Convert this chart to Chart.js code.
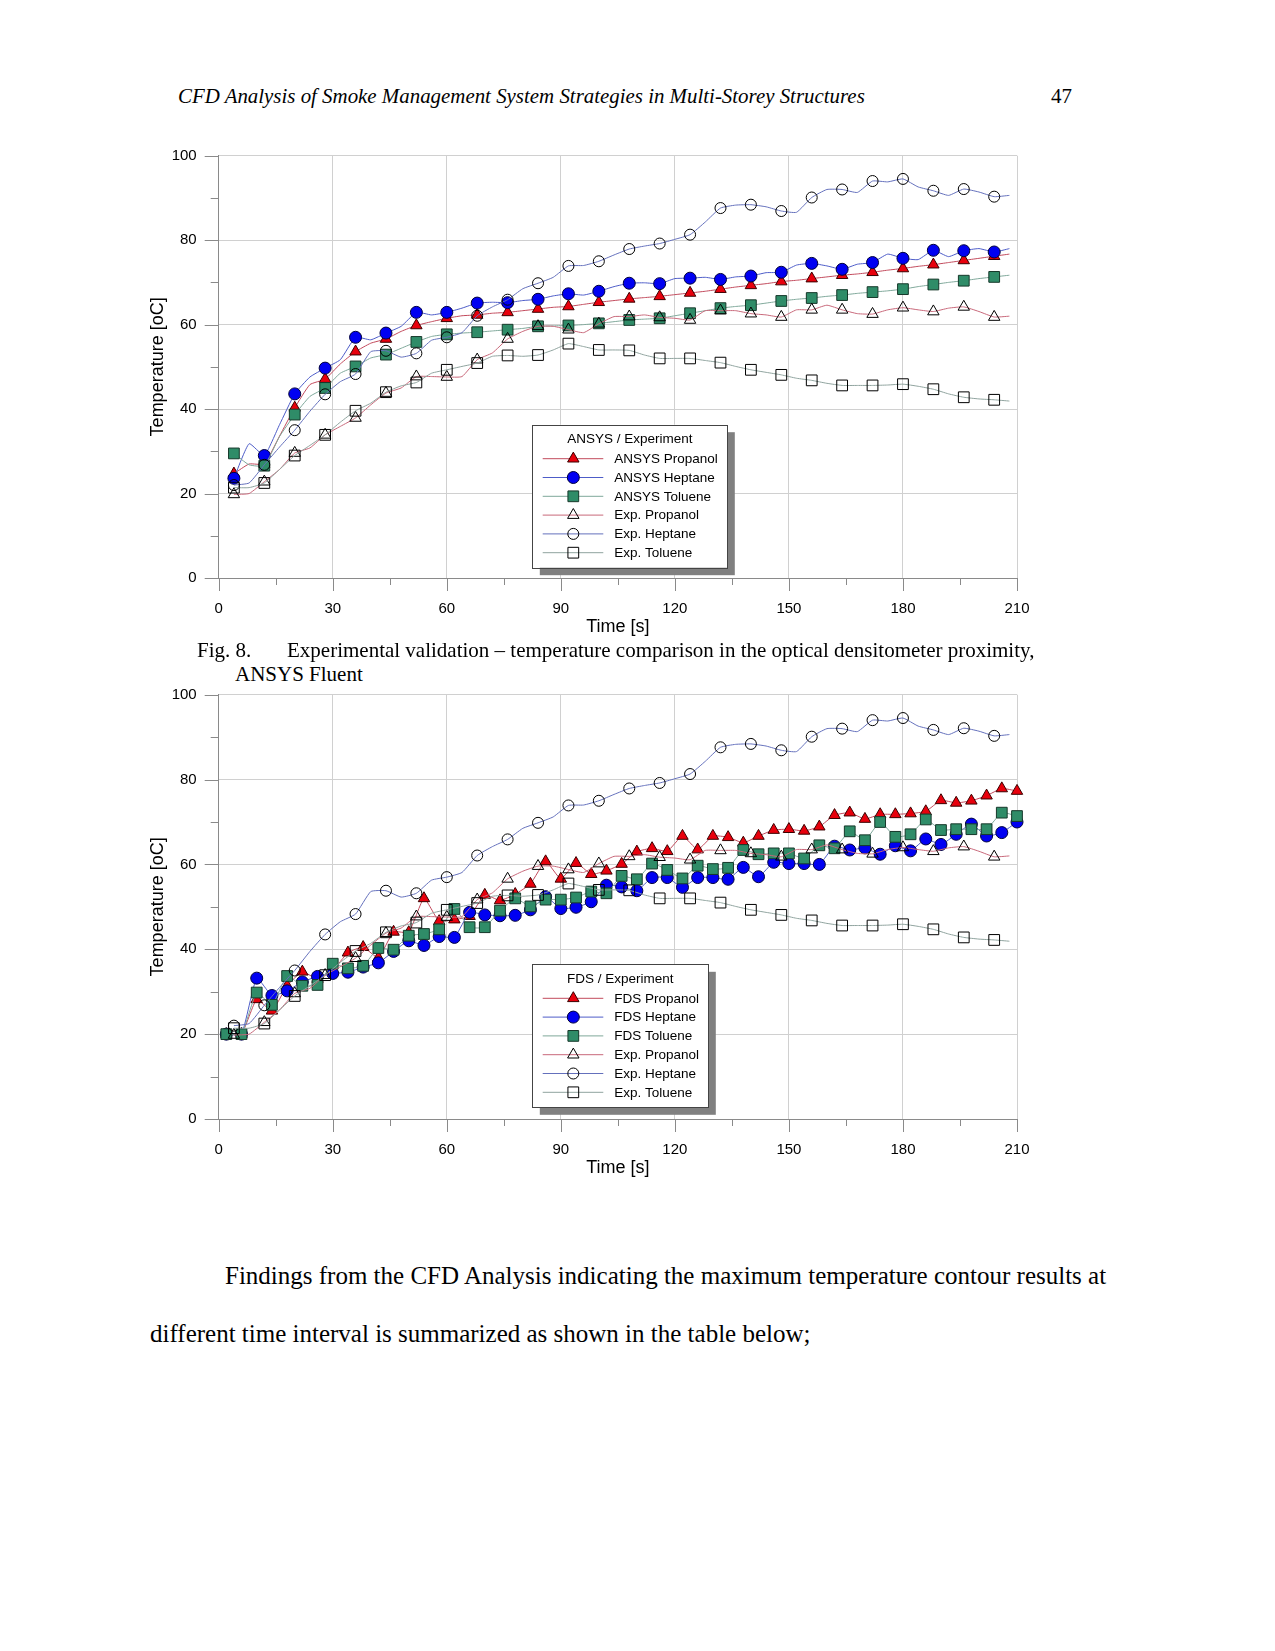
<!DOCTYPE html>
<html>
<head>
<meta charset="utf-8">
<script src="https://cdn.jsdelivr.net/npm/chart.js@4.4.1/dist/chart.umd.min.js"></script>
<style>
  body { margin: 0; background: #fff; }
  #page { position: relative; width: 1275px; height: 1651px; background: #fff; overflow: hidden; }
  .t { position: absolute; white-space: nowrap; color: #000; font-family: "Liberation Serif", "Times New Roman", serif; }
  canvas { position: absolute; }
</style>
</head>
<body>
<div id="page">
  <div class="t" style="left:178px;top:84px;font-size:20.9px;line-height:24px;font-style:italic">CFD Analysis of Smoke Management System Strategies in Multi-Storey Structures</div>
  <div class="t" style="left:1051px;top:84px;font-size:21px;line-height:24px">47</div>

  <canvas id="c1" width="920" height="500" style="left:120px;top:140px"></canvas>

  <div class="t" style="left:197px;top:638px;font-size:21px;line-height:24px">Fig. 8.</div>
  <div class="t" style="left:287px;top:638px;font-size:21px;line-height:24px">Experimental validation – temperature comparison in the optical densitometer proximity,</div>
  <div class="t" style="left:235px;top:662px;font-size:21px;line-height:24px">ANSYS Fluent</div>

  <canvas id="c2" width="920" height="500" style="left:120px;top:681px"></canvas>

  <div class="t" style="left:225px;top:1262px;font-size:25px;line-height:28px">Findings from the CFD Analysis indicating the maximum temperature contour results at</div>
  <div class="t" style="left:150px;top:1320px;font-size:25px;line-height:28px">different time interval is summarized as shown in the table below;</div>
</div>

<script>
// time axis (s) and temperature axis (oC)
const xTicks = [0, 30, 60, 90, 120, 150, 180, 210];
const yTicks = [0, 20, 40, 60, 80, 100];

// experiment and ANSYS samples every 4 s, markers every 8 s
const expTimes = [4, 8, 12, 16, 20, 24, 28, 32, 36, 40, 44, 48, 52, 56, 60, 64, 68, 72, 76, 80,
  84, 88, 92, 96, 100, 104, 108, 112, 116, 120, 124, 128, 132, 136, 140, 144, 148, 152, 156, 160,
  164, 168, 172, 176, 180, 184, 188, 192, 196, 200, 204, 208];

const expPropanol = [19.8, 20.0, 22.8, 25.7, 29.6, 30.8, 33.9, 35.9, 37.9, 41.0,
  43.8, 45.0, 47.7, 47.7, 47.6, 47.7, 51.7, 53.3, 56.6, 58.4,
  59.6, 59.6, 58.8, 58.1, 60.2, 61.9, 61.9, 62.3, 61.7, 61.5,
  61.1, 63.3, 63.3, 63.3, 62.6, 62.3, 61.8, 63.5, 63.5, 64.6,
  63.5, 62.6, 62.5, 63.5, 64.0, 63.5, 63.1, 63.9, 64.2, 63.1,
  61.8, 62.0];
const expHeptane = [22.0, 22.5, 26.8, 31.0, 35.0, 39.5, 43.5, 46.5, 48.3, 53.6,
  53.8, 52.3, 53.2, 56.3, 57.0, 58.1, 62.1, 64.2, 65.9, 68.5,
  69.8, 71.2, 73.9, 74.0, 75.0, 76.5, 77.9, 78.6, 79.2, 80.2,
  81.3, 84.3, 87.6, 88.3, 88.4, 87.9, 86.9, 86.6, 90.1, 92.0,
  92.0, 91.3, 94.0, 93.8, 94.5, 92.6, 91.7, 90.6, 92.1, 91.4,
  90.3, 90.6];
const expToluene = [21.4, 21.4, 22.5, 25.7, 29.0, 31.4, 33.9, 36.9, 39.6, 41.4,
  44.0, 45.5, 46.3, 48.5, 49.3, 50.1, 50.9, 52.5, 52.7, 52.5,
  52.8, 54.0, 55.5, 54.8, 54.0, 54.0, 53.9, 52.8, 52.0, 52.0,
  52.0, 51.5, 51.0, 50.1, 49.3, 48.7, 48.1, 47.3, 46.8, 46.1,
  45.6, 45.6, 45.6, 45.7, 45.9, 45.4, 44.7, 43.6, 42.8, 42.4,
  42.2, 41.9];

const ansysPropanol = [24.7, 27.0, 27.0, 33.6, 40.3, 45.8, 47.1, 50.7, 53.6, 55.6,
  56.6, 58.4, 59.8, 60.7, 61.5, 62.1, 62.3, 62.7, 62.9, 63.3,
  63.7, 64.1, 64.3, 64.8, 65.3, 65.7, 66.1, 66.4, 66.7, 67.1,
  67.5, 67.9, 68.4, 68.9, 69.3, 69.7, 70.2, 70.5, 70.9, 71.3,
  71.7, 72.0, 72.4, 72.9, 73.3, 73.8, 74.2, 74.7, 75.2, 75.7,
  76.2, 76.7];
const ansysHeptane = [23.6, 31.8, 29.0, 36.3, 43.6, 47.6, 49.7, 51.7, 57.0, 56.4,
  58.0, 59.6, 62.9, 62.3, 62.9, 63.9, 65.1, 65.3, 65.2, 65.7,
  66.0, 66.8, 67.3, 67.0, 67.9, 69.0, 69.8, 69.9, 69.7, 70.9,
  71.0, 71.2, 70.7, 71.3, 71.5, 72.3, 72.4, 74.1, 74.5, 73.9,
  73.1, 74.3, 74.7, 76.7, 75.7, 75.4, 77.6, 76.1, 77.5, 78.0,
  77.2, 78.0];
const ansysToluene = [29.5, 26.8, 26.6, 33.5, 38.7, 43.0, 45.0, 48.5, 50.1, 52.1,
  52.9, 54.4, 55.9, 57.2, 57.7, 58.0, 58.2, 58.5, 58.8, 59.1,
  59.6, 59.7, 59.8, 60.0, 60.3, 60.7, 61.1, 61.3, 61.5, 62.1,
  62.7, 63.3, 63.9, 64.3, 64.6, 65.1, 65.6, 66.0, 66.3, 66.7,
  67.0, 67.4, 67.7, 68.0, 68.4, 69.0, 69.5, 70.0, 70.4, 70.9,
  71.3, 71.7];

// FDS samples every 4 s, all marked
const fdsTimes = [2, 6, 10, 14, 18, 22, 26, 30, 34, 38, 42, 46, 50, 54, 58, 62, 66, 70, 74, 78,
  82, 86, 90, 94, 98, 102, 106, 110, 114, 118, 122, 126, 130, 134, 138, 142, 146, 150, 154, 158,
  162, 166, 170, 174, 178, 182, 186, 190, 194, 198, 202, 206, 210];
const fdsPropanol = [20.0, 20.0, 28.2, 25.5, 31.4, 34.7, 33.0, 35.0, 39.2, 40.5,
  38.0, 44.1, 44.0, 52.0, 46.6, 47.0, 47.8, 52.8, 51.5, 53.0,
  55.4, 60.7, 56.6, 60.3, 57.7, 58.5, 60.1, 63.0, 63.8, 63.1,
  66.7, 63.5, 66.7, 66.4, 65.1, 66.7, 68.1, 68.3, 67.9, 68.9,
  71.6, 72.2, 70.7, 71.8, 71.8, 72.0, 72.5, 75.1, 74.5, 75.0,
  76.2, 77.9, 77.3];
const fdsHeptane = [20.0, 20.0, 33.2, 29.1, 30.2, 32.3, 33.6, 34.3, 34.6, 35.8,
  36.8, 39.5, 42.0, 40.9, 43.0, 42.8, 48.7, 48.1, 47.9, 48.0,
  49.3, 52.4, 49.6, 49.9, 51.2, 55.1, 54.7, 53.8, 56.9, 56.9,
  54.6, 56.9, 56.9, 56.5, 59.3, 57.1, 60.5, 60.2, 60.2, 60.0,
  64.3, 63.4, 63.9, 62.4, 64.4, 63.2, 66.0, 64.7, 67.1, 69.5,
  66.7, 67.5, 70.0];
const fdsToluene = [20.0, 20.0, 29.8, 26.9, 33.7, 31.4, 31.6, 36.6, 35.5, 36.1,
  40.3, 39.9, 43.2, 43.6, 44.7, 49.5, 45.2, 45.2, 49.1, 52.0,
  50.1, 51.7, 51.7, 52.2, 53.6, 53.2, 57.3, 56.5, 60.2, 58.7,
  56.7, 59.7, 58.9, 59.2, 63.4, 62.4, 62.6, 62.6, 61.4, 64.5,
  63.8, 67.8, 65.7, 70.0, 66.5, 67.1, 70.6, 68.1, 68.3, 68.3,
  68.3, 72.2, 71.4];

const sansFont = '"Liberation Sans", Arial, sans-serif';

// marker + line looks
const styles = {
  simPropanol: { shape: 'triangle', size: 6.6, fill: '#e8000c', edge: '#3a0000', line: '#c24a5c' },
  simHeptane:  { shape: 'circle',   size: 6.0, fill: '#0000f2', edge: '#00003c', line: '#4d5cc8' },
  simToluene:  { shape: 'rect',     size: 7.6, fill: '#2f8c68', edge: '#16382a', line: '#7fa89a' },
  expPropanol: { shape: 'triangle', size: 6.6, fill: 'rgba(255,255,255,0)', edge: '#000', line: '#c8687a' },
  expHeptane:  { shape: 'circle',   size: 5.5, fill: 'rgba(255,255,255,0)', edge: '#000', line: '#6470bc' },
  expToluene:  { shape: 'rect',     size: 7.6, fill: 'rgba(255,255,255,0)', edge: '#000', line: '#8fa39e' }
};

function series(label, times, values, st, order, everyOther) {
  return {
    label: label,
    order: order,
    data: times.map((t, i) => ({ x: t, y: values[i] })),
    borderColor: st.line,
    borderWidth: 1,
    tension: 0.15,
    pointStyle: st.shape,
    pointBackgroundColor: st.fill,
    pointBorderColor: st.edge,
    pointBorderWidth: 1,
    pointRadius: c => (everyOther && c.dataIndex % 2 === 1) ? 0 : st.size,
    pointHoverRadius: 0,
    clip: false,
    markerStyle: st
  };
}

// same shapes as Chart.js draws them
function marker(ctx, st, x, y) {
  const r = st.size;
  ctx.beginPath();
  if (st.shape === 'circle') {
    ctx.arc(x, y, r, 0, Math.PI * 2);
  } else if (st.shape === 'rect') {
    const s = Math.SQRT1_2 * r;
    ctx.rect(x - s, y - s, 2 * s, 2 * s);
  } else {
    let a = 0;
    ctx.moveTo(x + Math.sin(a) * r, y - Math.cos(a) * r);
    a += 2 * Math.PI / 3;
    ctx.lineTo(x + Math.sin(a) * r, y - Math.cos(a) * r);
    a += 2 * Math.PI / 3;
    ctx.lineTo(x + Math.sin(a) * r, y - Math.cos(a) * r);
    ctx.closePath();
  }
  ctx.fillStyle = st.fill;
  ctx.fill();
  ctx.strokeStyle = st.edge;
  ctx.lineWidth = 1;
  ctx.stroke();
}

const axisTicks = {
  id: 'axisTicks',
  afterDraw(chart) {
    const { ctx, chartArea: a, scales: { x, y } } = chart;
    ctx.save();
    ctx.strokeStyle = '#8a8a8a';
    ctx.lineWidth = 1;
    ctx.beginPath();
    for (let v = 0; v <= 100; v += 10) {
      const py = Math.round(y.getPixelForValue(v)) + 0.5;
      ctx.moveTo(a.left - (v % 20 === 0 ? 14 : 8), py);
      ctx.lineTo(a.left, py);
    }
    for (let t = 0; t <= 210; t += 15) {
      const px = Math.round(x.getPixelForValue(t)) + 0.5;
      ctx.moveTo(px, a.bottom);
      ctx.lineTo(px, a.bottom + (t % 30 === 0 ? 13 : 7));
    }
    ctx.stroke();
    ctx.restore();
  }
};

const boxLegend = {
  id: 'boxLegend',
  afterDraw(chart, args, opts) {
    const { ctx, chartArea: a } = chart;
    const sets = chart.data.datasets;
    const left = a.left + 313.6;
    const top = a.bottom - opts.up;
    ctx.save();
    ctx.font = '13.5px ' + sansFont;
    const textW = Math.max(...sets.map(d => ctx.measureText(d.label).width));
    const w = Math.round(82 + textW + 9);
    const h = 143;
    ctx.fillStyle = '#808080';
    ctx.fillRect(left + 7.5, top + 7.5, w, h);
    ctx.fillStyle = '#fff';
    ctx.fillRect(left, top, w, h);
    ctx.strokeStyle = '#444';
    ctx.lineWidth = 1;
    ctx.strokeRect(Math.round(left) + 0.5, Math.round(top) + 0.5, w, h);
    ctx.fillStyle = '#000';
    ctx.textAlign = 'center';
    ctx.textBaseline = 'middle';
    ctx.fillText(opts.title, left + w / 2, top + 15);
    ctx.textAlign = 'left';
    sets.forEach((d, i) => {
      const yy = top + 34 + i * 18.8;
      ctx.strokeStyle = d.borderColor;
      ctx.lineWidth = 1;
      ctx.beginPath();
      ctx.moveTo(left + 10.4, yy);
      ctx.lineTo(left + 71, yy);
      ctx.stroke();
      marker(ctx, d.markerStyle, left + 41, yy);
      ctx.fillStyle = '#000';
      ctx.fillText(d.label, left + 82, yy + 0.5);
    });
    ctx.restore();
  }
};

// keep the plot box where the layout padding puts it
function noEdgePadding(s) {
  s.paddingTop = 0; s.paddingBottom = 0; s.paddingLeft = 0; s.paddingRight = 0;
}

function makeChart(id, datasets, legendTitle, padTop, legendUp) {
  return new Chart(document.getElementById(id), {
    type: 'line',
    data: { datasets: datasets },
    plugins: [axisTicks, boxLegend],
    options: {
      responsive: false,
      animation: false,
      events: [],
      layout: { autoPadding: false, padding: { top: padTop, right: 23, left: 0, bottom: 0 } },
      plugins: {
        legend: { display: false },
        tooltip: { enabled: false },
        boxLegend: { title: legendTitle, up: legendUp }
      },
      scales: {
        x: {
          type: 'linear', min: 0, max: 210,
          afterBuildTicks: s => { s.ticks = xTicks.map(v => ({ value: v })); },
          afterFit: s => { s.height = 62; noEdgePadding(s); },
          ticks: { font: { family: sansFont, size: 15 }, color: '#000', padding: 22, maxRotation: 0, autoSkip: false },
          grid: { color: '#d0d0d0', drawTicks: false },
          border: { color: '#8a8a8a' },
          title: { display: true, text: 'Time [s]', color: '#000',
                   font: { family: sansFont, size: 18, lineHeight: 1 }, padding: { top: 0, bottom: 4 } }
        },
        y: {
          min: 0, max: 100,
          afterBuildTicks: s => { s.ticks = yTicks.map(v => ({ value: v })); },
          afterFit: s => { s.width = 98.7; noEdgePadding(s); },
          ticks: { font: { family: sansFont, size: 15 }, color: '#000', padding: 22 },
          grid: { color: '#d0d0d0', drawTicks: false },
          border: { color: '#8a8a8a' },
          title: { display: true, text: 'Temperature [oC]', color: '#000',
                   font: { family: sansFont, size: 18, lineHeight: 1 }, padding: { top: 29, bottom: 0 } }
        }
      }
    }
  });
}

makeChart('c1', [
  series('ANSYS Propanol', expTimes, ansysPropanol, styles.simPropanol, 6, true),
  series('ANSYS Heptane', expTimes, ansysHeptane, styles.simHeptane, 5, true),
  series('ANSYS Toluene', expTimes, ansysToluene, styles.simToluene, 4, true),
  series('Exp. Propanol', expTimes, expPropanol, styles.expPropanol, 3, true),
  series('Exp. Heptane', expTimes, expHeptane, styles.expHeptane, 2, true),
  series('Exp. Toluene', expTimes, expToluene, styles.expToluene, 1, true)
], 'ANSYS / Experiment', 15.7, 153.3);

makeChart('c2', [
  series('FDS Propanol', fdsTimes, fdsPropanol, styles.simPropanol, 6, false),
  series('FDS Heptane', fdsTimes, fdsHeptane, styles.simHeptane, 5, false),
  series('FDS Toluene', fdsTimes, fdsToluene, styles.simToluene, 4, false),
  series('Exp. Propanol', expTimes, expPropanol, styles.expPropanol, 3, true),
  series('Exp. Heptane', expTimes, expHeptane, styles.expHeptane, 2, true),
  series('Exp. Toluene', expTimes, expToluene, styles.expToluene, 1, true)
], 'FDS / Experiment', 13.7, 154.7);
</script>
</body>
</html>
